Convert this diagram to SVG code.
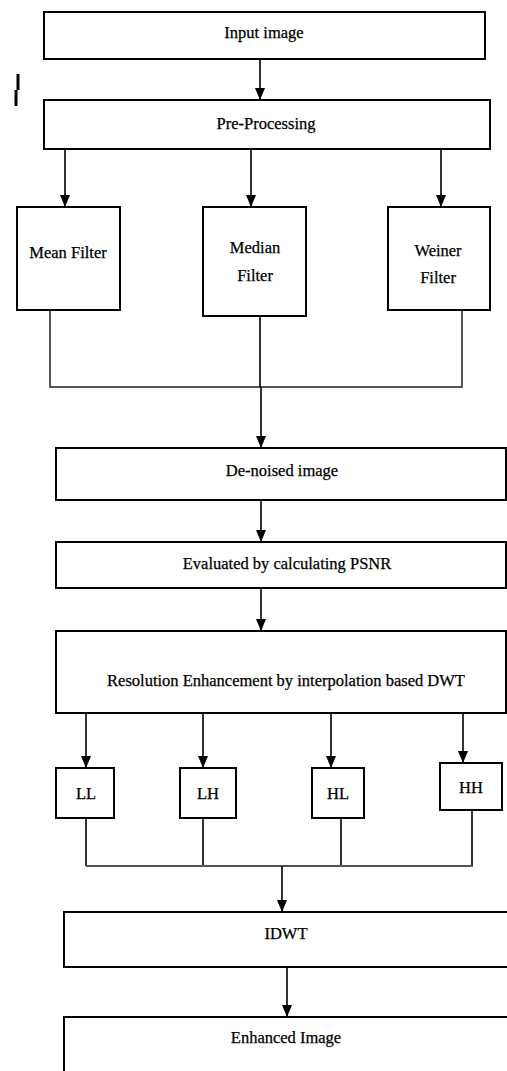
<svg xmlns="http://www.w3.org/2000/svg" width="507" height="1071" viewBox="0 0 507 1071">
<defs>
<style>
.box{fill:#fff;stroke:#000;stroke-width:2}
.lbl{font-family:"Liberation Serif","Times New Roman",serif;font-size:16.5px;fill:#000;stroke:#000;stroke-width:0.25;text-anchor:middle}
.con{stroke:#000;stroke-width:1.6;fill:none}
.gray{stroke:#555;stroke-width:2}
</style>
<marker id="ah" markerUnits="userSpaceOnUse" markerWidth="12" markerHeight="10" refX="12" refY="5" orient="auto" viewBox="0 0 12 10">
<path d="M0,0 L12,5 L0,10 Z" fill="#000"/>
</marker>
</defs>
<rect width="507" height="1071" fill="#fff"/>
<path d="M18,74 V90 M16,90 V106" stroke="#000" stroke-width="3" fill="none"/>
<g id="connectors">
<path class="con" d="M260,59 V100" marker-end="url(#ah)"/>
<path class="con" d="M65,149 V207" marker-end="url(#ah)"/>
<path class="con" d="M251,149 V207" marker-end="url(#ah)"/>
<path class="con" d="M441,149 V207" marker-end="url(#ah)"/>
<path class="con gray" d="M50,310 V387 H462 V310"/>
<path class="con" d="M260,316 V387"/>
<path class="con" d="M261,387 V448" marker-end="url(#ah)"/>
<path class="con" d="M261,500 V542" marker-end="url(#ah)"/>
<path class="con" d="M261,588 V631" marker-end="url(#ah)"/>
<path class="con" d="M86,713 V768" marker-end="url(#ah)"/>
<path class="con" d="M203,713 V768" marker-end="url(#ah)"/>
<path class="con" d="M331,713 V768" marker-end="url(#ah)"/>
<path class="con" d="M463,713 V763" marker-end="url(#ah)"/>
<path class="con" d="M86,818 V866 M203,818 V866 M341,818 V866 M472,810 V866"/>
<path class="con gray" d="M86,866 H473"/>
<path class="con" d="M282,866 V912" marker-end="url(#ah)"/>
<path class="con" d="M287,967 V1017" marker-end="url(#ah)"/>
</g>
<g id="input"><rect class="box" x="44" y="12" width="441" height="47"/><text class="lbl" x="264" y="38">Input image</text></g>
<g id="preprocessing"><rect class="box" x="44" y="100" width="446" height="49"/><text class="lbl" x="266" y="129">Pre-Processing</text></g>
<g id="mean"><rect class="box" x="17" y="207" width="103" height="103"/><text class="lbl" x="68" y="258">Mean Filter</text></g>
<g id="median"><rect class="box" x="203" y="207" width="103" height="109"/><text class="lbl" x="255" y="253">Median</text><text class="lbl" x="255" y="281">Filter</text></g>
<g id="weiner"><rect class="box" x="388" y="207" width="102" height="103"/><text class="lbl" x="438" y="256">Weiner</text><text class="lbl" x="438" y="283">Filter</text></g>
<g id="denoised"><rect class="box" x="56" y="448" width="450" height="52"/><text class="lbl" x="282" y="476">De-noised image</text></g>
<g id="evaluated"><rect class="box" x="56" y="542" width="450" height="46"/><text class="lbl" x="287" y="569">Evaluated by calculating PSNR</text></g>
<g id="resolution"><rect class="box" x="56" y="631" width="450" height="82"/><text class="lbl" x="286" y="686">Resolution Enhancement by interpolation based DWT</text></g>
<g id="ll"><rect class="box" x="56" y="768" width="58" height="50"/><text class="lbl" x="86" y="799">LL</text></g>
<g id="lh"><rect class="box" x="180" y="768" width="56" height="50"/><text class="lbl" x="208" y="799">LH</text></g>
<g id="hl"><rect class="box" x="312" y="768" width="52" height="50"/><text class="lbl" x="338" y="799">HL</text></g>
<g id="hh"><rect class="box" x="440" y="763" width="62" height="47"/><text class="lbl" x="471" y="793">HH</text></g>
<g id="idwt"><rect class="box" x="64" y="912" width="446" height="55"/><text class="lbl" x="286" y="939">IDWT</text></g>
<g id="enhanced"><rect class="box" x="64" y="1017" width="446" height="70"/><text class="lbl" x="286" y="1043">Enhanced Image</text></g>
</svg>
